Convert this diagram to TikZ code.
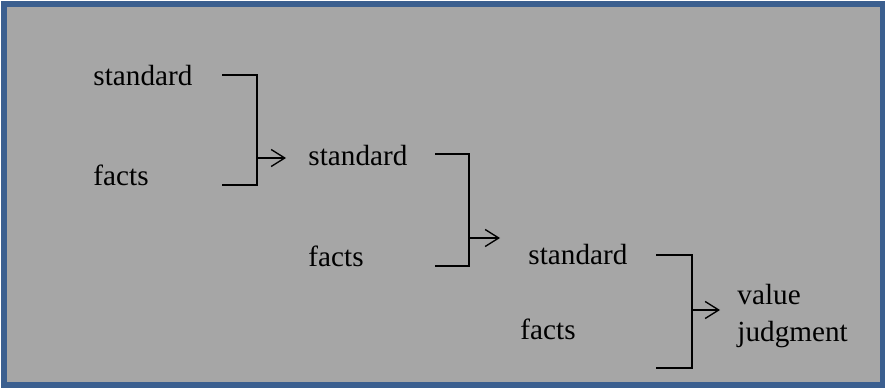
\documentclass[tikz,border=0pt]{standalone}
\usepackage{fontspec}
\setmainfont{Liberation Serif}
\usetikzlibrary{arrows.meta}
\definecolor{frameblue}{HTML}{3B5F8F}
\definecolor{panelgray}{HTML}{A6A6A6}

\begin{document}
\begin{tikzpicture}[x=0.411pt,y=-0.411pt,
	word/.style={anchor=base west,inner sep=0pt,font=\fontsize{12}{14}\selectfont},
	bracket/.style={line width=1pt},
	joinarrow/.style={line width=0.55pt,-{Straight Barb[length=5.6pt,width=7pt,line width=0.55pt]}}]
		\useasboundingbox (0,0) rectangle (885,389);
		\draw[line width=2.4pt,draw=frameblue,fill=panelgray] (4,4) rectangle (882.5,385);
		\node[word] (std1) at (93,85) {standard};
		\node[word] (fct1) at (93,185) {facts};
		\node[word] (std2) at (308,165) {standard};
		\node[word] (fct2) at (308,266) {facts};
		\node[word] (std3) at (528,264) {standard};
		\node[word] (fct3) at (520,339) {facts};
		\node[word] (val) at (737,304) {value};
		\node[word] (jdg) at (737,341) {judgment};
		\foreach \g/\xa/\xb/\ytop/\ybot/\ymid/\xend in {1/222/257/75/185/158/286,2/435/469/154/266/238/500,3/656/692/255/368/310/720}{
			\coordinate (ta\g) at (\xa,\ytop);
			\coordinate (tb\g) at (\xb,\ytop);
			\coordinate (ba\g) at (\xa,\ybot);
			\coordinate (bb\g) at (\xb,\ybot);
			\coordinate (mid\g) at (\xb,\ymid);
			\coordinate (tip\g) at (\xend,\ymid);
			\draw[bracket] (ta\g) -- (tb\g) -- (bb\g) -- (ba\g);
			\draw[joinarrow] (mid\g) -- (tip\g);
		}
	\end{tikzpicture}
\end{document}
